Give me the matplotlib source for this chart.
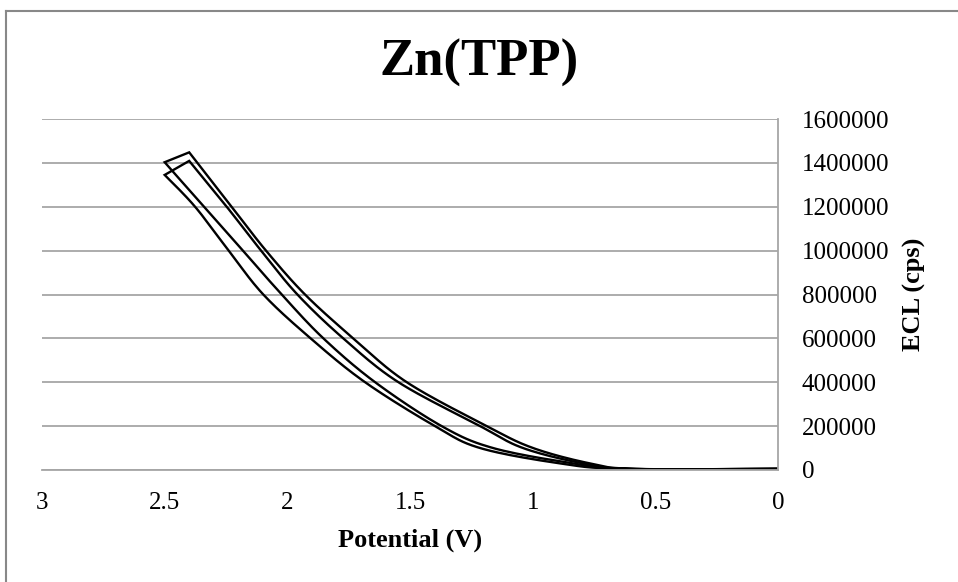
import matplotlib
matplotlib.use("Agg")
import matplotlib.pyplot as plt
import numpy as np
from matplotlib.lines import Line2D
from matplotlib.ticker import FuncFormatter

plt.rcParams["font.family"] = ["Liberation Serif", "DejaVu Serif"]

# ECL loops: lower branch (scan up) and upper branch (scan back)
loop1_up_v = [0.0, 0.62, 0.835, 1.161, 1.371, 1.642, 1.853, 2.023, 2.181, 2.340, 2.5]
loop1_up_i = [5000, 5000, 30000, 100000, 200000, 400000, 600000, 800000, 1000000, 1200000, 1403000]
loop1_down_v = [2.4, 2.227, 2.087, 1.928, 1.731, 1.513, 1.187, 0.998, 0.766, 0.58, 0.0]
loop1_down_i = [1448000, 1200000, 1000000, 800000, 600000, 400000, 200000, 100000, 30000, 5000, 5000]

loop2_up_v = [0.0, 0.63, 0.888, 1.214, 1.398, 1.683, 1.905, 2.098, 2.239, 2.376, 2.5]
loop2_up_i = [5000, 5000, 30000, 100000, 200000, 400000, 600000, 800000, 1000000, 1200000, 1345000]
loop2_down_v = [2.4, 2.247, 2.107, 1.959, 1.772, 1.547, 1.214, 1.039, 0.795, 0.6, 0.0]
loop2_down_i = [1409000, 1200000, 1000000, 800000, 600000, 400000, 200000, 100000, 30000, 5000, 5000]

x_ticks = [3, 2.5, 2, 1.5, 1, 0.5, 0]
y_ticks = list(range(0, 1600001, 200000))


def smooth(xs, ys, sx, sy, n=20):
    # Excel style smoothed line: bezier through the points, control points from neighbours
    p = np.column_stack([np.array(xs) * sx, np.array(ys) * sy])
    out = [p[0]]
    t = np.linspace(0, 1, n + 1)[1:, None]
    for k in range(len(p) - 1):
        a = p[k - 1] if k > 0 else p[k]
        b, c = p[k], p[k + 1]
        d = p[k + 2] if k + 2 < len(p) else p[k + 1]
        c1 = b + (c - a) / 6
        c2 = c - (d - b) / 6
        seg = (1 - t) ** 3 * b + 3 * (1 - t) ** 2 * t * c1 + 3 * (1 - t) * t ** 2 * c2 + t ** 3 * c
        out.extend(seg)
    out = np.array(out)
    return list(out[:, 0] / sx), list(out[:, 1] / sy)


fig = plt.figure(figsize=(9.58, 5.82), dpi=100)
ax = fig.add_axes([42/958, 1 - 470/582, (778 - 42)/958, (470 - 119)/582])

# pixels per unit, so the smoothing happens in screen space
sx, sy = 736 / 3.0, 351 / 1600000.0
for v_up, i_up, v_dn, i_dn in [(loop1_up_v, loop1_up_i, loop1_down_v, loop1_down_i),
                               (loop2_up_v, loop2_up_i, loop2_down_v, loop2_down_i)]:
    xu, yu = smooth(v_up, i_up, sx, sy)
    xd, yd = smooth(v_dn, i_dn, sx, sy)
    ax.plot(xu + xd, yu + yd, color="black", lw=1.7, solid_joinstyle="miter")

ax.set_xlim(3, 0)
ax.set_ylim(0, 1600000)
ax.set_xticks(x_ticks)
ax.set_yticks(y_ticks)
ax.xaxis.set_major_formatter(FuncFormatter(lambda v, p: "%g" % v))
ax.yaxis.set_major_formatter(FuncFormatter(lambda v, p: "%d" % v))
ax.yaxis.tick_right()
ax.yaxis.set_label_position("right")
ax.tick_params(axis="both", length=0, labelsize=18, colors="black")
ax.tick_params(axis="x", pad=16)
ax.tick_params(axis="y", pad=17)
ax.grid(axis="y", color="#a6a6a6", lw=1.3)
ax.set_axisbelow(True)
for side in ["left", "top"]:
    ax.spines[side].set_visible(False)
for side in ["right", "bottom"]:
    ax.spines[side].set_color("#a6a6a6")
    ax.spines[side].set_linewidth(1.3)

ax.set_xlabel("Potential (V)", fontsize=19, fontweight="bold", labelpad=10)
ax.set_ylabel("ECL (cps)", fontsize=19, fontweight="bold", labelpad=10)
fig.text(0.5, 1 - 63/582, "Zn(TPP)", fontsize=38, fontweight="bold", ha="center", va="center")

# chart area border: only its top and left edges fall inside the picture
top, left = 1 - 11/582, 6/958
fig.lines.append(Line2D([left, 1.0], [top, top], transform=fig.transFigure, color="#888888", lw=1.5))
fig.lines.append(Line2D([left, left], [0.0, top], transform=fig.transFigure, color="#888888", lw=1.5))

fig.savefig("out.png", dpi=100)
